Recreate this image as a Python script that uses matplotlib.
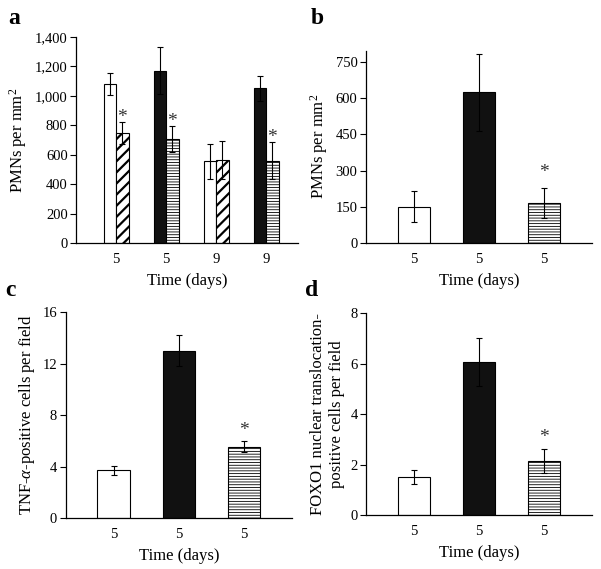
import matplotlib
matplotlib.use("Agg")
import matplotlib.pyplot as plt
import numpy as np

plt.rcParams['font.family'] = ['Liberation Serif', 'DejaVu Serif']
plt.rcParams['mathtext.fontset'] = 'custom'
plt.rcParams['mathtext.rm'] = 'Liberation Serif'
plt.rcParams['mathtext.it'] = 'Liberation Serif:italic'

# Panel a
a_labels = ["5", "5", "9", "9"]
a_left_vals = [1080, 1170, 555, 1050]
a_left_err = [75, 160, 120, 85]
a_left_style = ["white", "black", "white", "black"]
a_right_vals = [745, 705, 565, 560]
a_right_err = [75, 90, 130, 125]
a_right_style = ["diag", "horiz", "diag", "horiz"]
a_star = [True, True, False, True]

# Panel b
b_labels = ["5", "5", "5"]
b_vals = [150, 625, 165]
b_err = [65, 160, 63]
b_style = ["white", "black", "horiz"]
b_star = [False, False, True]

# Panel c
c_labels = ["5", "5", "5"]
c_vals = [3.7, 13.0, 5.55]
c_err = [0.35, 1.2, 0.45]
c_style = ["white", "black", "horiz"]
c_star = [False, False, True]

# Panel d
d_labels = ["5", "5", "5"]
d_vals = [1.5, 6.05, 2.15]
d_err = [0.27, 0.95, 0.47]
d_style = ["white", "black", "horiz"]
d_star = [False, False, True]

fig = plt.figure(figsize=(6.01, 5.69), dpi=100)


def draw_bar(ax, x, v, e, style, w):
    if style == "white":
        ax.bar(x, v, w, color="white", edgecolor="black", linewidth=0.8, zorder=2)
    elif style == "black":
        ax.bar(x, v, w, color="#111111", edgecolor="black", linewidth=0.8, zorder=2)
    elif style == "diag":
        with plt.rc_context({'hatch.linewidth': 1.6}):
            ax.bar(x, v, w, color="white", edgecolor="black", hatch="///",
                   linewidth=0.8, zorder=2)
    elif style == "horiz":
        with plt.rc_context({'hatch.linewidth': 0.6}):
            ax.bar(x, v, w, color="white", edgecolor="black", hatch="------",
                   linewidth=0.8, zorder=2)
    ax.errorbar(x, v, yerr=e, fmt="none", ecolor="black", elinewidth=0.8,
                capsize=2.3, capthick=0.8, zorder=3)


def add_star(ax, x, y):
    ax.text(x, y, "*", ha="center", va="bottom", fontsize=14, color="#333333")


def style_ax(ax):
    for s in ["top", "right"]:
        ax.spines[s].set_visible(False)
    for s in ["left", "bottom"]:
        ax.spines[s].set_linewidth(0.9)
    ax.tick_params(axis="y", direction="out", length=4, width=0.8, labelsize=10.5, pad=2)
    ax.tick_params(axis="x", length=0, labelsize=10.5, pad=7)
    ax.set_xlabel("Time (days)", fontsize=12, labelpad=5)


# Panel a
axa = fig.add_axes([0.1265, 0.573, 0.3695, 0.362])
xa = np.arange(len(a_labels))
w = 0.25
for i in range(len(xa)):
    draw_bar(axa, xa[i] - w / 2, a_left_vals[i], a_left_err[i], a_left_style[i], w)
    draw_bar(axa, xa[i] + w / 2, a_right_vals[i], a_right_err[i], a_right_style[i], w)
    if a_star[i]:
        add_star(axa, xa[i] + w / 2, a_right_vals[i] + a_right_err[i] - 25)
axa.set_xticks(xa)
axa.set_xticklabels(a_labels)
axa.set_xlim(-0.8, 3.64)
axa.set_ylim(0, 1400)
axa.set_yticks(np.arange(0, 1401, 200))
axa.set_yticklabels([f"{v:,}" for v in range(0, 1401, 200)])
axa.set_ylabel("PMNs per $\\mathrm{mm}^2$", fontsize=12, labelpad=4)
style_ax(axa)


def three_panel(rect, labels, vals, errs, styles, stars, ylim, yticks, ylabel, star_off):
    ax = fig.add_axes(rect)
    x = np.arange(len(labels))
    for i in range(len(x)):
        draw_bar(ax, x[i], vals[i], errs[i], styles[i], 0.5)
        if stars[i]:
            add_star(ax, x[i], vals[i] + errs[i] + star_off)
    ax.set_xticks(x)
    ax.set_xticklabels(labels)
    ax.set_xlim(-0.74, 2.74)
    ax.set_ylim(*ylim)
    ax.set_yticks(yticks)
    ax.set_ylabel(ylabel, fontsize=12, labelpad=4)
    style_ax(ax)
    return ax


axb = three_panel([0.6085, 0.573, 0.3765, 0.338], b_labels, b_vals, b_err, b_style,
                  b_star, (0, 797), [0, 150, 300, 450, 600, 750],
                  "PMNs per $\\mathrm{mm}^2$", 30)
axc = three_panel([0.109, 0.0896, 0.377, 0.362], c_labels, c_vals, c_err, c_style,
                  c_star, (0, 16), [0, 4, 8, 12, 16],
                  "TNF-$\\mathit{\\alpha}$-positive cells per field", 0.15)
axd = three_panel([0.609, 0.0949, 0.376, 0.355], d_labels, d_vals, d_err, d_style,
                  d_star, (0, 8), [0, 2, 4, 6, 8],
                  "FOXO1 nuclear translocation-\npositive cells per field", 0.1)

fig.text(8 / 601, 1 - 19 / 569, "a", fontsize=17, fontweight="bold", va="center")
fig.text(311 / 601, 1 - 18 / 569, "b", fontsize=17, fontweight="bold", va="center")
fig.text(5 / 601, 1 - 290 / 569, "c", fontsize=17, fontweight="bold", va="center")
fig.text(305 / 601, 1 - 290 / 569, "d", fontsize=17, fontweight="bold", va="center")

fig.savefig("out.png", dpi=100)
